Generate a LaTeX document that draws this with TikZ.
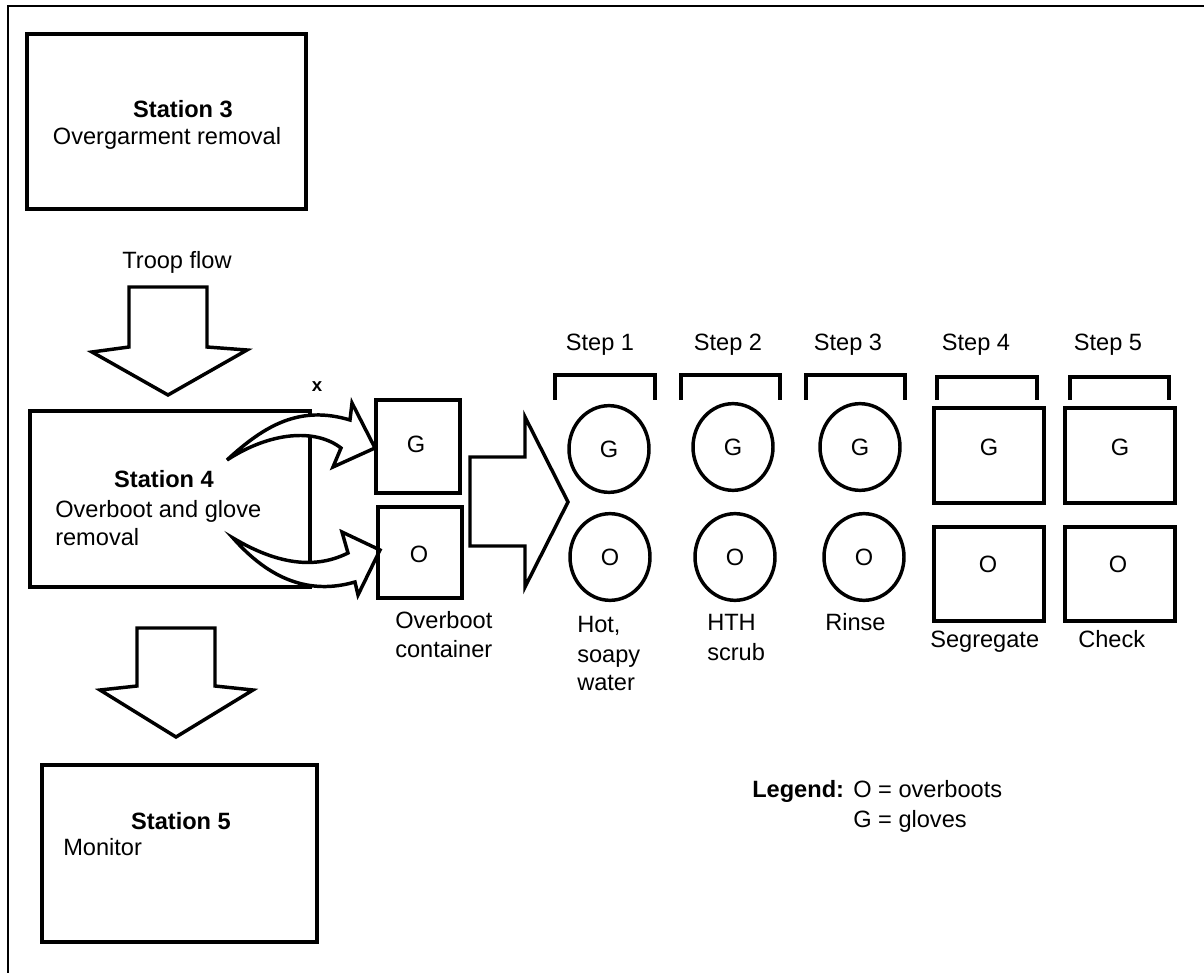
\documentclass[tikz,border=0pt]{standalone}
\usepackage{fontspec}
\setmainfont{Liberation Sans}
\usetikzlibrary{shapes.geometric}
\begin{document}
\begin{tikzpicture}[x=0.75pt,y=-0.75pt,
  every node/.style={inner sep=0pt, font=\fontsize{17.7}{21.75}\selectfont},
  box/.style={draw, line width=2.6pt},
  blk/.style={draw, line width=2.6pt, fill=white, line join=miter},
  brk/.style={draw, line width=2.6pt},
  oval/.style={draw, ellipse, line width=2.6pt, minimum width=60pt, minimum height=65pt},
  lbl/.style={anchor=mid},
  lblw/.style={anchor=mid west},
  ttl/.style={anchor=mid, font=\fontsize{17.7}{21.75}\selectfont\bfseries}]
\useasboundingbox (0,0) rectangle (1204,973);
\fill[white] (0,0) rectangle (1204,973);
% frame
\draw[line width=1.7pt] (1204,6) -- (8,6) -- (8,973);

% Station 3
\node[box, minimum width=209.25pt, minimum height=131.25pt] (st3) at (166.5,121.5) {};
\node[ttl] (st3t) at (183,114) {Station 3};
\node[lbl] (st3d) at (167,141) {Overgarment removal};

% Troop flow arrow
\node[lbl] (tf) at (177,265) {Troop flow};
\draw[blk] (129,287) -- (207,287) -- (207,347) -- (247,350) -- (168,395) -- (92,352) -- (129,347) -- cycle;

% Station 4
\node[box, minimum width=210pt, minimum height=132pt] (st4) at (170,499) {};
\node[ttl] (st4t) at (164,484) {Station 4};
\node[lblw] (st4d1) at (55,514) {Overboot and glove};
\node[lblw] (st4d2) at (55,542) {removal};

% x mark
\node[font=\fontsize{14}{14}\selectfont\bfseries] (xm) at (317,387) {x};

% curved arrows
\draw[blk] (227,460) .. controls (265,425) and (300,405) .. (350,420) -- (352,403) -- (375,448) -- (333,467) -- (341,448) .. controls (315,428) and (270,432) .. cycle;
\draw[blk] (233,538) .. controls (270,560) and (310,572) .. (348,553) -- (342,532) -- (380,550) -- (358,595) -- (355,582) .. controls (310,595) and (270,580) .. cycle;

% overboot containers
\node[box, minimum width=63pt, minimum height=69.75pt] (cg) at (418,446.5) {};
\node[box, minimum width=63pt, minimum height=68.25pt] (co) at (420,552.5) {};
\node[lbl] (cgt) at (416,449) {G};
\node[lbl] (cot) at (419,559) {O};
\node[lblw] (cl1) at (395,625) {Overboot};
\node[lblw] (cl2) at (395,654) {container};

% big arrow
\draw[blk] (470,457) -- (525,457) -- (525,417) -- (568,502) -- (525,587) -- (525,546) -- (470,546) -- cycle;

% Station 5 arrow
\draw[blk] (137,628) -- (215,628) -- (215,686) -- (253,690) -- (176,737) -- (100,690) -- (137,686) -- cycle;

% Station 5
\node[box, minimum width=206.25pt, minimum height=132.75pt] (st5) at (179.5,853.5) {};
\node[ttl] (st5t) at (181,826) {Station 5};
\node[lblw] (st5d) at (63,852) {Monitor};

% step headings
\node[lbl] (s1) at (600,347) {Step 1};
\node[lbl] (s2) at (728,347) {Step 2};
\node[lbl] (s3) at (848,347) {Step 3};
\node[lbl] (s4) at (976,347) {Step 4};
\node[lbl] (s5) at (1108,347) {Step 5};

% brackets
\draw[brk] (555,400) -- (555,375) -- (655,375) -- (655,400);
\draw[brk] (681,400) -- (681,375) -- (780,375) -- (780,400);
\draw[brk] (806,400) -- (806,375) -- (905,375) -- (905,400);
\draw[brk] (937,400) -- (937,377) -- (1037,377) -- (1037,400);
\draw[brk] (1070,400) -- (1070,377) -- (1169,377) -- (1169,400);

% step 1-3 basins
\node[oval] (g1) at (609,449) {G};
\node[oval] (o1) at (610,557) {O};
\node[oval] (g2) at (733,447) {G};
\node[oval] (o2) at (735,557) {O};
\node[oval] (g3) at (860,447) {G};
\node[oval] (o3) at (864,557) {O};

% step 4-5 boxes
\node[box, minimum width=82.5pt, minimum height=71.25pt] (g4) at (989,455.5) {};
\node[box, minimum width=82.5pt, minimum height=70.5pt] (o4) at (989,574) {};
\node[box, minimum width=82.5pt, minimum height=71.25pt] (g5) at (1120,455.5) {};
\node[box, minimum width=82.5pt, minimum height=70.5pt] (o5) at (1120,574) {};
\node[lbl] (g4t) at (989,452) {G};
\node[lbl] (o4t) at (988,569) {O};
\node[lbl] (g5t) at (1120,452) {G};
\node[lbl] (o5t) at (1118,569) {O};

% step labels
\node[lblw] (l1a) at (577,629) {Hot,};
\node[lblw] (l1b) at (577,659) {soapy};
\node[lblw] (l1c) at (577,687) {water};
\node[lblw] (l2a) at (707,627) {HTH};
\node[lblw] (l2b) at (707,657) {scrub};
\node[lblw] (l3) at (825,627) {Rinse};
\node[lblw] (l4) at (930,644) {Segregate};
\node[lblw] (l5) at (1078,644) {Check};

% legend
\node[anchor=mid west, font=\fontsize{17.7}{21.75}\selectfont\bfseries] (lg) at (752,794) {Legend:};
\node[lblw] (lg1) at (853,794) {O = overboots};
\node[lblw] (lg2) at (853,824) {G = gloves};
\end{tikzpicture}
\end{document}
